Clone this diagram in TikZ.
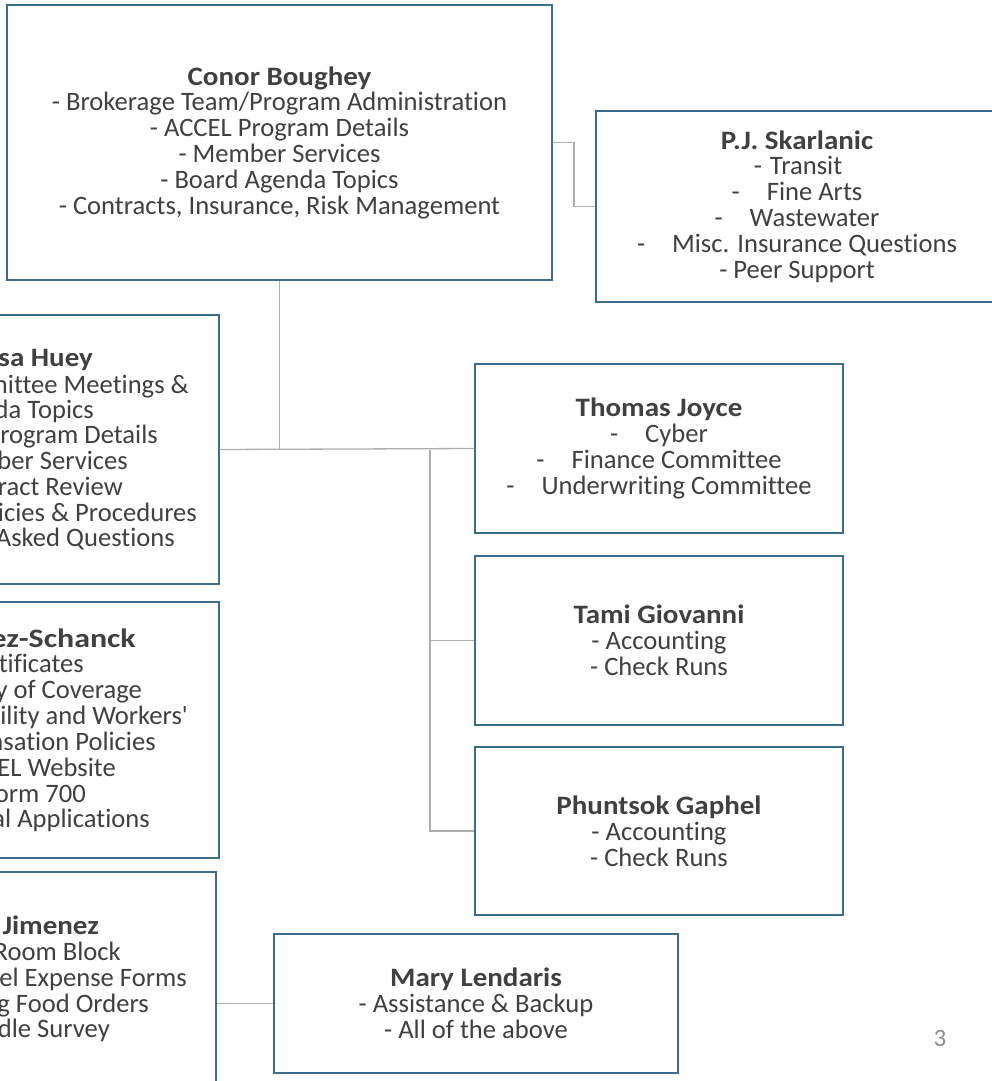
\documentclass[tikz,border=0pt]{standalone}
\usepackage{fontspec}
\usepackage{graphicx}
\setmainfont{Carlito}[Ligatures={TeX,NoCommon}, BoldFeatures={FakeStretch=1.09}]
\definecolor{boxc}{HTML}{3D6D8E}
\definecolor{linec}{HTML}{AEAEAE}
\definecolor{txt}{HTML}{404040}
\definecolor{pgc}{HTML}{8C8C8C}
\newcommand\tb{\hspace{27pt}}
\newcommand\pfont{\fontsize{26.6}{25.8}\selectfont}
\begin{document}
\begin{tikzpicture}[x=1pt,y=-1pt,
  pbox/.style={draw=boxc, line width=1.2pt, fill=white, text=txt, align=center, inner sep=0pt,
    font=\pfont},
  frag/.style={text=txt, inner sep=0pt, anchor=base east, font=\pfont},
  conn/.style={draw=linec, line width=1.3pt}]
\useasboundingbox (0,0) rectangle (992,1081);
\clip (0,0) rectangle (992,1081);

\node[pbox, minimum width=545pt, minimum height=275pt] (conor) at (279.5,142.5)
 {\textbf{Conor Boughey}\\- Brokerage Team/Program Administration\\- ACCEL Program Details\\- Member Services\\- Board Agenda Topics\\- Contracts, Insurance, Risk Management};
\node[pbox, minimum width=402pt, minimum height=191pt] (pj) at (797,206.5)
 {\textbf{P.J. Skarlanic}\\\mbox{\hspace{2pt}-\hspace{8pt}Transit}\\-\tb Fine Arts\\-\tb Wastewater\\-\tb Misc. Insurance Questions\\- Peer Support};
\node[pbox, minimum width=369pt, minimum height=269pt] (huey) at (34.5,449.5) {};
\node[pbox, minimum width=369pt, minimum height=256pt] (perez) at (34.5,730) {};
\node[pbox, minimum width=366pt, minimum height=216pt] (jim) at (33,980) {};
\node[pbox, minimum width=368pt, minimum height=169pt] (thomas) at (659,448.5)
 {\textbf{Thomas Joyce}\\-\tb Cyber\\-\tb Finance Committee\\-\tb Underwriting Committee};
\node[pbox, minimum width=368pt, minimum height=169pt] (tami) at (659,640.5)
 {\textbf{Tami Giovanni}\\- Accounting\\- Check Runs};
\node[pbox, minimum width=368pt, minimum height=168pt] (phun) at (659,831)
 {\textbf{Phuntsok Gaphel}\\- Accounting\\- Check Runs};
\node[pbox, minimum width=404pt, minimum height=139pt] (mary) at (476,1003.5)
 {\textbf{Mary Lendaris}\\- Assistance \& Backup\\- All of the above};

\coordinate (pjturn) at (574,142.5);
\coordinate (br) at (430,449.5);
\draw[conn] (conor.east) -- (pjturn) |- (pj.west);
\draw[conn] (conor.south) -- (conor.south |- huey.east);
\draw[conn] (huey.east) -- (thomas.west);
\draw[conn] (br) |- (phun.west);
\draw[conn] (br |- tami.west) -- (tami.west);
\draw[conn] (jim.east |- mary.west) -- (mary.west);

% visible parts of the cut-off boxes
\node[frag] (h1) at (93,366) {\bfseries sa Huey};
\node[frag] (h2) at (189,393) {mittee Meetings \&};
\node[frag] (h3) at (94,418) {da Topics};
\node[frag] (h4) at (158,443) {rogram Details};
\node[frag] (h5) at (128,469) {ber Services};
\node[frag] (h6) at (123,495) {ract Review};
\node[frag] (h7) at (197,521) {icies \& Procedures};
\node[frag] (h8) at (175,546) {Asked Questions};

\node[frag] (p1) at (136,647) {\scalebox{1.1}[1]{\bfseries ez-Schanck}};
\node[frag] (p2) at (84,672) {tificates};
\node[frag] (p3) at (142,698) {y of Coverage};
\node[frag] (p4) at (188,724) {ility and Workers\textquotesingle};
\node[frag] (p5) at (156,750) {nsation Policies};
\node[frag] (p6) at (116,776) {EL Website};
\node[frag] (p7) at (86,802) {orm 700};
\node[frag] (p8) at (150,827) {al Applications};

\node[frag] (j1) at (99,934) {\bfseries Jimenez};
\node[frag] (j2) at (121,960) {Room Block};
\node[frag] (j3) at (187,986) {el Expense Forms};
\node[frag] (j4) at (149,1012) {g Food Orders};
\node[frag] (j5) at (110,1037) {dle Survey};

\node[text=pgc, inner sep=0pt, font=\fontsize{25}{25}\selectfont] (pg) at (940,1038.7) {3};
\end{tikzpicture}
\end{document}
